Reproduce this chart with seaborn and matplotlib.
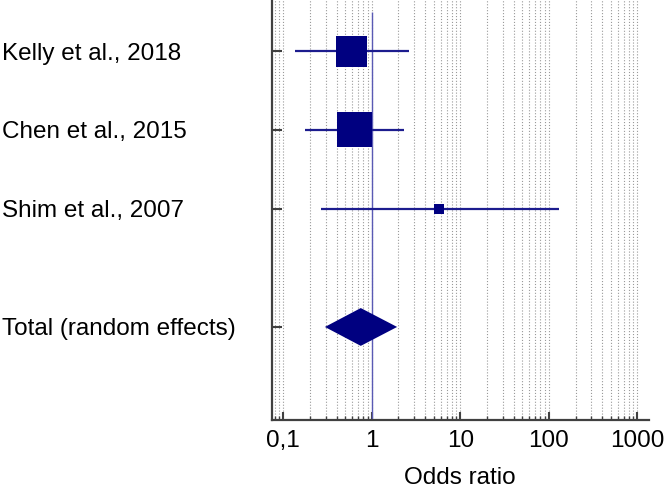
import seaborn as sns
from matplotlib import pyplot as plt
from matplotlib import ticker
import numpy as np
import pandas as pd

studies = ["Kelly et al., 2018", "Chen et al., 2015", "Shim et al., 2007"]
odds = [0.59, 0.63, 5.7]
ci_low = [0.135, 0.177, 0.267]
ci_high = [2.64, 2.30, 129.0]
weight = [41.5, 54.1, 4.4]

total_label = "Total (random effects)"
total_or = 0.75
total_low = 0.295
total_high = 1.93

tick_vals = [0.1, 1, 10, 100, 1000]

sns.set_theme(style="white")
plt.rcParams['font.family'] = ['Liberation Sans', 'DejaVu Sans']
plt.rcParams['text.color'] = 'black'

df = pd.DataFrame({"study": studies, "odds": odds, "lo": ci_low, "hi": ci_high,
                   "weight": weight, "pos": [0, 1, 2]})
total_pos = 3.5

fig = plt.figure(figsize=(6.66, 4.9), dpi=100)
ax = fig.add_axes([0.408, 0.143, 0.566, 0.857])

navy = "#000080"
fs = 17.5
ax.set_xscale("log")
ax.set_xlim(0.074, 1340)
ax.set_ylim(4.68, -0.65)

# grid and line of no effect
ax.grid(which="both", axis="x", linestyle=":", color="#9a9a9a", linewidth=0.8)
ax.vlines(1, -0.5, 4.68, color="#5a5ab4", linewidth=1.0, zorder=2)

# confidence intervals
ax.hlines(df["pos"], df["lo"], df["hi"], color="#1c1c8e", linewidth=1.6, zorder=3)

# study boxes
sns.scatterplot(data=df, x="odds", y="pos", size="weight", sizes=(52, 635),
                marker="s", color=navy, edgecolor=navy, linewidth=0,
                legend=False, ax=ax, zorder=4)

# pooled diamond
h = 0.24
ax.fill([total_low, total_or, total_high, total_or],
        [total_pos, total_pos - h, total_pos, total_pos + h],
        color=navy, zorder=4, linewidth=0)

ax.set_yticks(list(df["pos"]) + [total_pos])
ax.set_yticklabels(studies + [total_label], fontsize=fs)
for lbl in ax.get_yticklabels():
    lbl.set_horizontalalignment("left")
ax.tick_params(axis="y", direction="in", length=7, width=1.5, color="#404040",
               pad=194, left=True, labelcolor="black")

ax.xaxis.set_major_locator(ticker.FixedLocator(tick_vals))
ax.xaxis.set_minor_locator(ticker.LogLocator(base=10, subs=np.arange(2, 10)))
ax.xaxis.set_major_formatter(ticker.FuncFormatter(lambda v, p: f"{v:g}".replace(".", ",")))
ax.xaxis.set_minor_formatter(ticker.NullFormatter())
ax.tick_params(axis="x", which="major", direction="in", length=6, width=1.5,
               color="#404040", labelsize=fs, pad=7, bottom=True, labelcolor="black")
ax.tick_params(axis="x", which="minor", direction="in", length=3, width=1.0,
               color="#404040", bottom=True)

ax.set_xlabel("Odds ratio", fontsize=fs, labelpad=11, color="black")
ax.set_ylabel("")

sns.despine(ax=ax, top=True, right=True)
for s in ["left", "bottom"]:
    ax.spines[s].set_color("#404040")
    ax.spines[s].set_linewidth(1.6)

fig.savefig("out.png", dpi=100)
